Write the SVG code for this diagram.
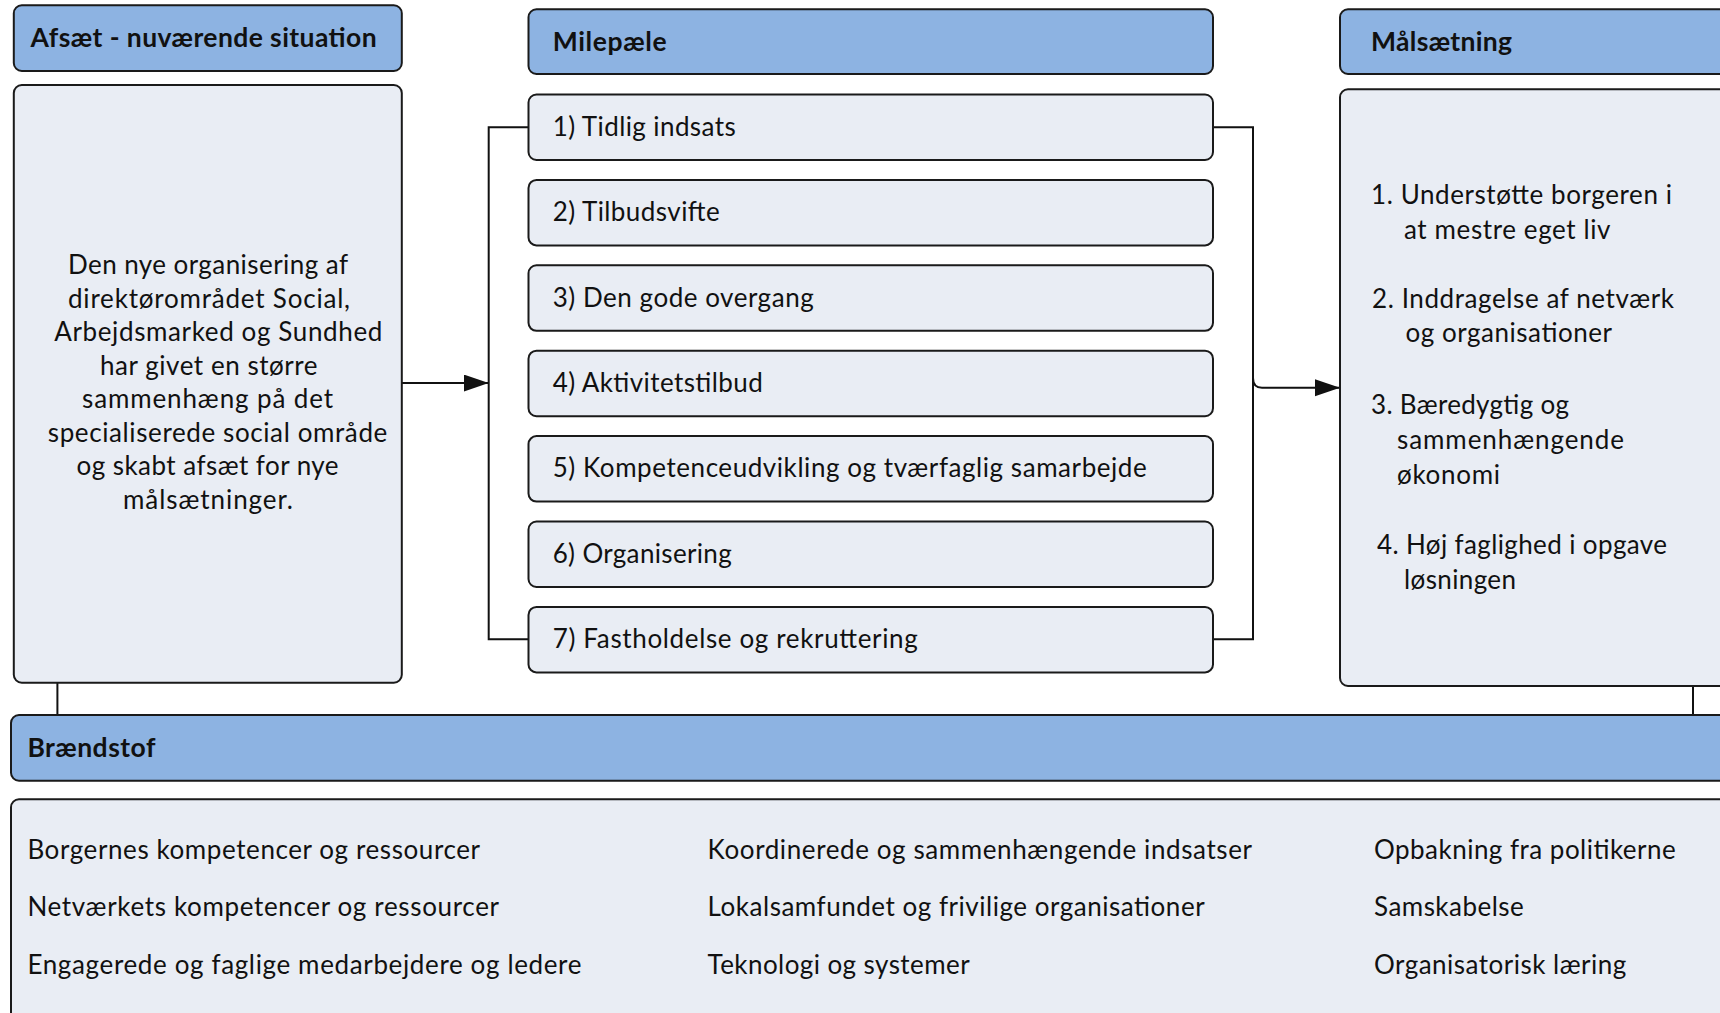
<svg xmlns="http://www.w3.org/2000/svg" width="1720" height="1013" viewBox="0 0 1720 1013">
  <defs>
    <marker id="arrow" markerUnits="userSpaceOnUse" markerWidth="26" markerHeight="18" refX="25" refY="8.5" orient="auto">
      <path d="M0,0 L25,8.5 L0,17 z" fill="#111"/>
    </marker>
    <style>
      .head { fill: #8DB3E2; stroke: #1a1a1a; stroke-width: 2; }
      .body { fill: #E9EDF4; stroke: #1a1a1a; stroke-width: 2; }
      .ht { font-family: Lato, "Open Sans", sans-serif; font-weight: 700; font-size: 26.5px; fill: #111; }
      .t { font-family: Lato, "Open Sans", sans-serif; font-size: 26px; fill: #111; }
      .conn { fill: none; stroke: #111; stroke-width: 2; }
    </style>
  </defs>
  <rect width="1720" height="1013" fill="#fff"/>

  <!-- connectors -->
  <g id="connectors">
    <path class="conn" d="M528.5,127.2 H488.7 V639.3 H528.5"/>
    <path class="conn" d="M401.8,383 H488.7" marker-end="url(#arrow)"/>
    <path class="conn" d="M1213,127.2 H1253 V639.3 H1213"/>
    <path class="conn" d="M1253,378 Q1253,387.7 1262,387.7 H1340" marker-end="url(#arrow)"/>
    <path class="conn" d="M57.4,682.7 V715"/>
    <path class="conn" d="M1693,686 V715"/>
  </g>

  <!-- starting point -->
  <g id="afsaet-header">
    <rect class="head" x="13.8" y="5.3" width="388" height="65.7" rx="8"/>
    <text class="ht" x="30.6" y="47" textLength="346">Afsæt - nuværende situation</text>
  </g>
  <g id="afsaet-body">
    <rect class="body" x="13.8" y="85" width="388" height="597.7" rx="8"/>
    <text class="t" x="68" y="274" textLength="280">Den nye organisering af</text>
    <text class="t" x="68" y="307.5" textLength="282">direktørområdet Social,</text>
    <text class="t" x="54.3" y="341" textLength="328">Arbejdsmarked og Sundhed</text>
    <text class="t" x="100" y="374.5" textLength="217.5">har givet en større</text>
    <text class="t" x="82" y="408" textLength="251">sammenhæng på det</text>
    <text class="t" x="47.8" y="441.5" textLength="339.5">specialiserede social område</text>
    <text class="t" x="76.5" y="475" textLength="262">og skabt afsæt for nye</text>
    <text class="t" x="123" y="508.5" textLength="170">målsætninger.</text>
  </g>

  <!-- milestones -->
  <g id="milepaele-header">
    <rect class="head" x="528.5" y="9.3" width="684.5" height="64.7" rx="8"/>
    <text class="ht" x="552.7" y="51" textLength="114">Milepæle</text>
  </g>
  <g id="milestone-1">
    <rect class="body" x="528.5" y="94.5" width="684.5" height="65.5" rx="8"/>
    <text class="t" x="552.7" y="135.7" textLength="183">1) Tidlig indsats</text>
  </g>
  <g id="milestone-2">
    <rect class="body" x="528.5" y="179.9" width="684.5" height="65.5" rx="8"/>
    <text class="t" x="552.7" y="221.1" textLength="167">2) Tilbudsvifte</text>
  </g>
  <g id="milestone-3">
    <rect class="body" x="528.5" y="265.3" width="684.5" height="65.5" rx="8"/>
    <text class="t" x="552.7" y="306.5" textLength="261">3) Den gode overgang</text>
  </g>
  <g id="milestone-4">
    <rect class="body" x="528.5" y="350.7" width="684.5" height="65.5" rx="8"/>
    <text class="t" x="552.7" y="391.9" textLength="210">4) Aktivitetstilbud</text>
  </g>
  <g id="milestone-5">
    <rect class="body" x="528.5" y="436.1" width="684.5" height="65.5" rx="8"/>
    <text class="t" x="552.7" y="477.3" textLength="594">5) Kompetenceudvikling og tværfaglig samarbejde</text>
  </g>
  <g id="milestone-6">
    <rect class="body" x="528.5" y="521.5" width="684.5" height="65.5" rx="8"/>
    <text class="t" x="552.7" y="562.7" textLength="179">6) Organisering</text>
  </g>
  <g id="milestone-7">
    <rect class="body" x="528.5" y="606.9" width="684.5" height="65.5" rx="8"/>
    <text class="t" x="552.7" y="648.1" textLength="365">7) Fastholdelse og rekruttering</text>
  </g>

  <!-- goals -->
  <g id="maalsaetning-header">
    <rect class="head" x="1340" y="9.3" width="420" height="64.7" rx="8"/>
    <text class="ht" x="1371" y="51" textLength="141">Målsætning</text>
  </g>
  <g id="maalsaetning-body">
    <rect class="body" x="1340" y="89.3" width="420" height="596.7" rx="8"/>
    <text class="t" x="1371" y="203.8" textLength="301">1. Understøtte borgeren i</text>
    <text class="t" x="1404" y="238.5" textLength="206.5">at mestre eget liv</text>
    <text class="t" x="1372" y="307.8" textLength="302">2. Inddragelse af netværk</text>
    <text class="t" x="1405.5" y="342" textLength="206.5">og organisationer</text>
    <text class="t" x="1371" y="414" textLength="198">3. Bæredygtig og</text>
    <text class="t" x="1397" y="449" textLength="227">sammenhængende</text>
    <text class="t" x="1397" y="483.5" textLength="103">økonomi</text>
    <text class="t" x="1377" y="553.8" textLength="290">4. Høj faglighed i opgave</text>
    <text class="t" x="1404" y="588.5" textLength="112">løsningen</text>
  </g>

  <!-- fuel -->
  <g id="braendstof-header">
    <rect class="head" x="11" y="715" width="1750" height="65.7" rx="8"/>
    <text class="ht" x="27.4" y="757" textLength="128">Brændstof</text>
  </g>
  <g id="braendstof-body">
    <rect class="body" x="11" y="799.3" width="1750" height="260" rx="8"/>
    <text class="t" x="27.4" y="859.3" textLength="452.6">Borgernes kompetencer og ressourcer</text>
    <text class="t" x="27.4" y="916" textLength="471.6">Netværkets kompetencer og ressourcer</text>
    <text class="t" x="27.4" y="974.3" textLength="554">Engagerede og faglige medarbejdere og ledere</text>
    <text class="t" x="707.6" y="859.3" textLength="544.4">Koordinerede og sammenhængende indsatser</text>
    <text class="t" x="707.6" y="916" textLength="497">Lokalsamfundet og frivilige organisationer</text>
    <text class="t" x="707.6" y="974.3" textLength="262">Teknologi og systemer</text>
    <text class="t" x="1374" y="859.3" textLength="301.7">Opbakning fra politikerne</text>
    <text class="t" x="1374" y="916" textLength="149.7">Samskabelse</text>
    <text class="t" x="1374" y="974.3" textLength="252.3">Organisatorisk læring</text>
  </g>
</svg>
